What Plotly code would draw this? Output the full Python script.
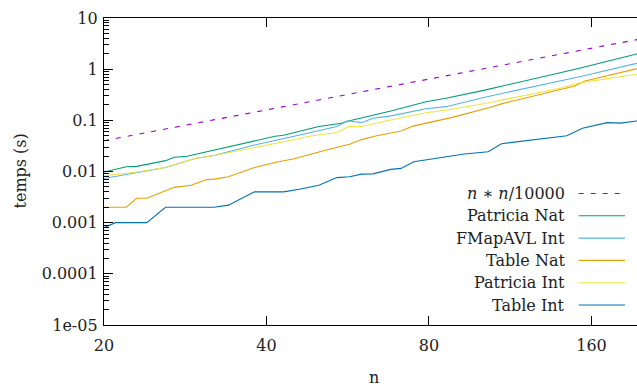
import math
import plotly.graph_objects as go

# ---------------- data ----------------
ref_n = [20, 40, 80, 160, 200]
ref_v = [0.04, 0.16, 0.64, 2.56, 4.0]

patricia_nat_n = [20, 22, 23, 26, 27, 28.5, 30, 32, 35, 38, 41.5, 43, 45, 50, 55, 57, 68, 79, 86, 101, 140, 152, 194, 200]
patricia_nat_v = [0.0098, 0.0124, 0.0126, 0.0163, 0.019, 0.0199, 0.0225, 0.0263, 0.033, 0.040, 0.0488, 0.051, 0.057,
                  0.076, 0.088, 0.098, 0.152, 0.231, 0.27, 0.385, 0.853, 1.04, 1.98, 2.1]

fmapavl_int_n = [20, 23, 26, 29.5, 32, 35, 38, 45, 54, 56.5, 60, 63, 68, 79, 86, 101, 140, 152, 194, 200]
fmapavl_int_v = [0.0073, 0.0095, 0.012, 0.018, 0.0205, 0.0263, 0.033, 0.0488, 0.0758, 0.098, 0.09, 0.11, 0.122,
                 0.169, 0.185, 0.28, 0.587, 0.713, 1.30, 1.4]

table_nat_n = [20, 22, 23, 24, 27, 29, 31, 32, 34, 38, 41.5, 45, 51, 57, 60, 64, 71, 75, 88, 100, 104, 109, 149,
               155, 173, 194, 200]
table_nat_v = [0.002, 0.002, 0.003, 0.003, 0.0049, 0.0054, 0.007, 0.0071, 0.0079, 0.012, 0.015, 0.0178, 0.0255,
               0.034, 0.042, 0.05, 0.062, 0.078, 0.113, 0.16, 0.18, 0.21, 0.47, 0.58, 0.77, 1.03, 1.1]

patricia_int_n = [20, 23, 26, 29.5, 32, 38, 44, 48, 54, 56.8, 60, 68, 79, 86, 101, 140, 152, 194, 200]
patricia_int_v = [0.0082, 0.0098, 0.012, 0.018, 0.0205, 0.029, 0.040, 0.0488, 0.058, 0.0758, 0.0758, 0.1015, 0.141,
                  0.157, 0.211, 0.423, 0.54, 0.794, 0.85]

table_int_n = [20, 21, 24, 26, 32, 34, 38, 43, 46, 50, 54, 57, 60, 63, 68, 71, 75, 80, 93, 103, 109, 144, 154, 171,
               181, 194, 200]
table_int_v = [0.0008, 0.001, 0.001, 0.002, 0.002, 0.0022, 0.004, 0.004, 0.0045, 0.0054, 0.0076, 0.0079, 0.0089,
               0.009, 0.011, 0.0115, 0.0155, 0.0172, 0.022, 0.0244, 0.035, 0.05, 0.07, 0.09, 0.088, 0.097, 0.1]

series_names = ["<i>n</i> ∗ <i>n</i>/10000", "Patricia Nat", "FMapAVL Int", "Table Nat", "Patricia Int", "Table Int"]

x_tickvals = [20, 40, 80, 160]
x_ticktext = ["20", "40", "80", "160"]
y_tickvals = [1e-5, 1e-4, 1e-3, 1e-2, 1e-1, 1, 10]
y_ticktext = ["1e-05", "0.0001", "0.001", "0.01", "0.1", "1", "10"]

# ---------------- styling ----------------
W, H = 637, 387
L, R, T, B = 104, 637, 18, 325
FONT = "DejaVu Serif"
FS = 16

colors = ["#9400D3", "#009E73", "#56B4E9", "#E69F00", "#F0E442", "#0072B2"]
dashes = ["5px,7px", "solid", "solid", "solid", "solid", "solid"]
data = [(ref_n, ref_v), (patricia_nat_n, patricia_nat_v), (fmapavl_int_n, fmapavl_int_v),
        (table_nat_n, table_nat_v), (patricia_int_n, patricia_int_v), (table_int_n, table_int_v)]

fig = go.Figure()
for (xs, ys), name, c, d in zip(data, series_names, colors, dashes):
    fig.add_trace(go.Scatter(x=xs, y=ys, mode="lines", name=name,
                             line=dict(color=c, width=1.1, dash=d), showlegend=False))


def px_x(x):
    return (x - L) / (R - L)


def px_y(y):
    return (B - y) / (B - T)


# legend drawn manually (gnuplot style: text right-aligned, sample on the right)
shapes = []
annotations = []
for i, (name, c, d) in enumerate(zip(series_names, colors, dashes)):
    yy = 193.5 + 22.3 * i
    annotations.append(dict(x=px_x(566.5), y=px_y(yy), xref="paper", yref="paper", text=name,
                            showarrow=False, xanchor="right", yanchor="middle",
                            font=dict(family=FONT, size=FS, color="#222")))
    shapes.append(dict(type="line", xref="paper", yref="paper", x0=px_x(578.7), x1=px_x(625),
                       y0=px_y(yy), y1=px_y(yy), line=dict(color=c, width=1.1, dash=d)))

annotations.append(dict(x=px_x(374), y=px_y(377), xref="paper", yref="paper", text="n", showarrow=False,
                        xanchor="center", yanchor="middle", font=dict(family=FONT, size=FS, color="#222")))
annotations.append(dict(x=px_x(20), y=px_y(171.5), xref="paper", yref="paper", text="temps (s)",
                        showarrow=False, textangle=-90, xanchor="center", yanchor="middle",
                        font=dict(family=FONT, size=FS, color="#222")))

fig.update_layout(
    width=W, height=H,
    margin=dict(l=L, r=W - R, t=T, b=H - B, pad=0),
    paper_bgcolor="white", plot_bgcolor="white",
    font=dict(family=FONT, size=FS, color="#222"),
    shapes=shapes, annotations=annotations,
    showlegend=False,
)
fig.update_xaxes(type="log", range=[math.log10(20), math.log10(194.3)],
                 tickvals=x_tickvals, ticktext=x_ticktext,
                 ticks="inside", ticklen=9, tickwidth=1, tickcolor="#000",
                 showline=True, linecolor="#000", linewidth=1.3, mirror="ticks",
                 showgrid=False, zeroline=False, automargin=False, ticklabelstandoff=6,
                 tickfont=dict(family=FONT, size=FS, color="#222"))
fig.update_yaxes(type="log", range=[-5, 1],
                 tickvals=y_tickvals, ticktext=y_ticktext,
                 ticks="inside", ticklen=9, tickwidth=1, tickcolor="#000",
                 minor=dict(ticks="inside", ticklen=4.5, tickcolor="#000", dtick="D1", showgrid=False),
                 showline=True, linecolor="#000", linewidth=1.3, mirror=False,
                 showgrid=False, zeroline=False, automargin=False, ticklabelstandoff=2,
                 tickfont=dict(family=FONT, size=FS, color="#222"))

fig.write_html("out.html", config={"displayModeBar": False},
               post_script="document.body.style.margin='0px';")
